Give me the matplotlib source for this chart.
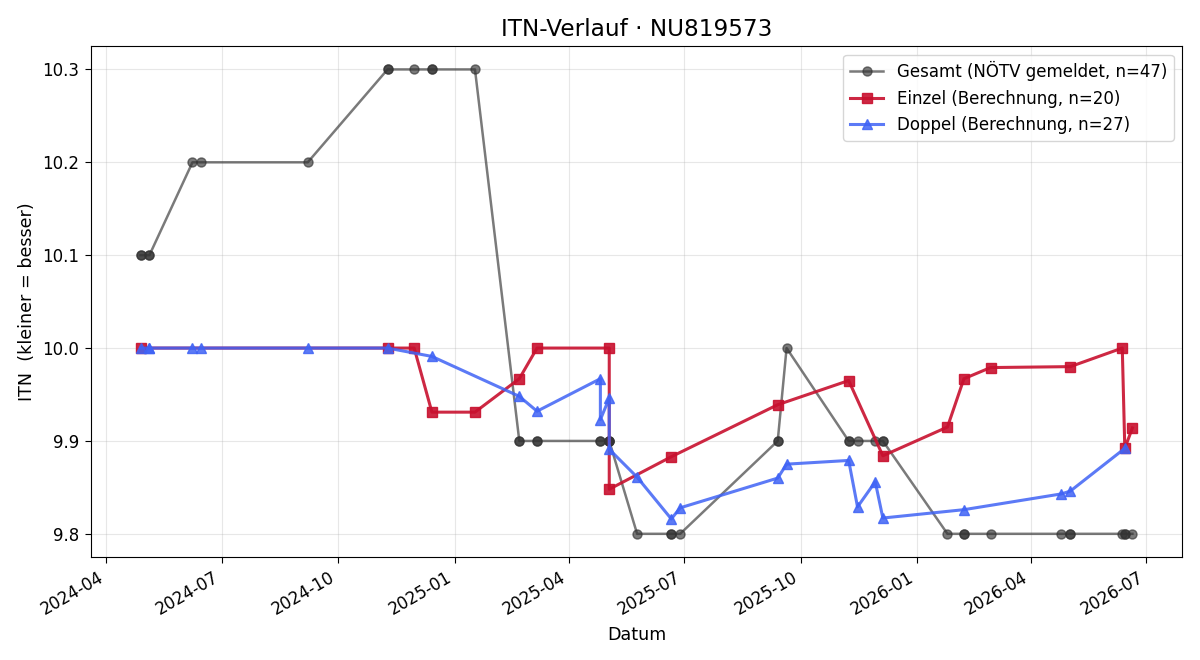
import matplotlib
matplotlib.use("Agg")
import matplotlib.pyplot as plt
import matplotlib.dates as mdates
import pandas as pd

# Gesamt (NÖTV gemeldet)
gesamt_dates = [
    "2024-04-28", "2024-04-28", "2024-05-05", "2024-05-05", "2024-06-08", "2024-06-15",
    "2024-09-07", "2024-11-09", "2024-11-09", "2024-11-30", "2024-12-14", "2024-12-14",
    "2025-01-17", "2025-02-21", "2025-02-21", "2025-03-07", "2025-03-07", "2025-04-26",
    "2025-04-26", "2025-05-03", "2025-05-03", "2025-05-03", "2025-05-03", "2025-05-25",
    "2025-06-21", "2025-06-21", "2025-06-28", "2025-09-13", "2025-09-13", "2025-09-20",
    "2025-11-08", "2025-11-08", "2025-11-15", "2025-11-29", "2025-12-05", "2025-12-05",
    "2026-01-25", "2026-02-07", "2026-02-07", "2026-02-28", "2026-04-25", "2026-05-02",
    "2026-05-02", "2026-06-12", "2026-06-14", "2026-06-14", "2026-06-20",
]
gesamt_values = [
    10.1, 10.1, 10.1, 10.1, 10.2, 10.2,
    10.2, 10.3, 10.3, 10.3, 10.3, 10.3,
    10.3, 9.9, 9.9, 9.9, 9.9, 9.9,
    9.9, 9.9, 9.9, 9.9, 9.9, 9.8,
    9.8, 9.8, 9.8, 9.9, 9.9, 10.0,
    9.9, 9.9, 9.9, 9.9, 9.9, 9.9,
    9.8, 9.8, 9.8, 9.8, 9.8, 9.8,
    9.8, 9.8, 9.8, 9.8, 9.8,
]

# Einzel (Berechnung)
einzel_dates = [
    "2024-04-28", "2024-11-09", "2024-11-30", "2024-12-14", "2025-01-17",
    "2025-02-21", "2025-03-07", "2025-05-03", "2025-05-03", "2025-06-21",
    "2025-09-13", "2025-11-08", "2025-12-05", "2026-01-25", "2026-02-07",
    "2026-02-28", "2026-05-02", "2026-06-12", "2026-06-14", "2026-06-20",
]
einzel_values = [
    10.0, 10.0, 10.0, 9.931, 9.931,
    9.967, 10.0, 10.0, 9.848, 9.883,
    9.939, 9.965, 9.884, 9.915, 9.967,
    9.979, 9.980, 10.0, 9.892, 9.914,
]

# Doppel (Berechnung)
doppel_dates = [
    "2024-04-28", "2024-05-05", "2024-05-05", "2024-06-08", "2024-06-15",
    "2024-09-07", "2024-11-09", "2024-12-14", "2025-02-21", "2025-03-07",
    "2025-04-26", "2025-04-26", "2025-05-03", "2025-05-03", "2025-05-25",
    "2025-06-21", "2025-06-28", "2025-09-13", "2025-09-20", "2025-11-08",
    "2025-11-15", "2025-11-29", "2025-12-05", "2026-02-07", "2026-04-25",
    "2026-05-02", "2026-06-14",
]
doppel_values = [
    10.0, 10.0, 10.0, 10.0, 10.0,
    10.0, 10.0, 9.991, 9.948, 9.932,
    9.967, 9.923, 9.946, 9.891, 9.861,
    9.816, 9.828, 9.860, 9.875, 9.879,
    9.829, 9.856, 9.817, 9.826, 9.843,
    9.846, 9.892,
]

fig, ax = plt.subplots(figsize=(12, 6.6), dpi=100)
fig.subplots_adjust(left=0.0758, right=0.985, top=0.930, bottom=0.156)

ax.plot(pd.to_datetime(gesamt_dates), gesamt_values, marker="o", color="#333333",
        alpha=0.65, linewidth=1.8, markersize=6.5,
        label=f"Gesamt (NÖTV gemeldet, n={len(gesamt_values)})")
ax.plot(pd.to_datetime(einzel_dates), einzel_values, marker="s", color="#c8102e",
        alpha=0.9, linewidth=2.2, markersize=7,
        label=f"Einzel (Berechnung, n={len(einzel_values)})")
ax.plot(pd.to_datetime(doppel_dates), doppel_values, marker="^", color="#3f63f5",
        alpha=0.85, linewidth=2.2, markersize=7,
        label=f"Doppel (Berechnung, n={len(doppel_values)})")

ax.set_title("ITN-Verlauf · NU819573", fontsize=16.7, pad=7.2)
ax.set_xlabel("Datum", fontsize=12.6, labelpad=4.8)
ax.set_ylabel("ITN  (kleiner = besser)", fontsize=12.6, labelpad=4.8)
ax.grid(True, alpha=0.3)
ax.xaxis.set_major_locator(mdates.MonthLocator(bymonth=[1, 4, 7, 10]))
ax.xaxis.set_major_formatter(mdates.DateFormatter("%Y-%m"))
ax.tick_params(labelsize=12, length=4.2, pad=4.2)
ax.legend(loc="upper right", fontsize=12)
for lbl in ax.get_xticklabels():
    lbl.set_rotation(30)
    lbl.set_ha("right")
fig.savefig("out.png", dpi=100)
